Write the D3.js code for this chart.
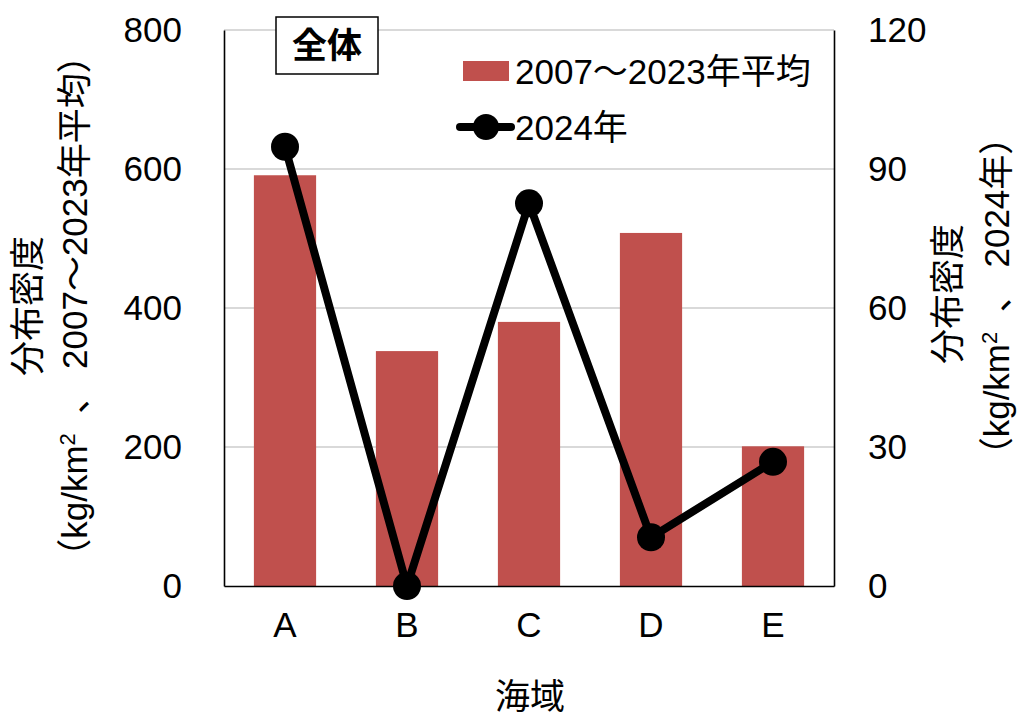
<!DOCTYPE html>
<html>
<head>
<meta charset="utf-8">
<script src="https://cdn.jsdelivr.net/npm/d3@7"></script>
<style>
  html, body { margin: 0; padding: 0; background: #fff; }
  svg { display: block; }
  text { font-family: "Liberation Sans", "Noto Sans CJK JP", sans-serif; fill: #000; white-space: pre; }
</style>
</head>
<body>
<svg id="chart" width="1019" height="722"></svg>
<script>
// Sea areas and densities
const categories = ["A", "B", "C", "D", "E"];
const avgValues = [591, 338, 380, 508, 201];      // 2007–2023 average (left axis)
const val2024 = [94.8, 0, 82.6, 10.5, 26.8];       // 2024 (right axis)
const leftTicks = [0, 200, 400, 600, 800];
const rightTicks = [0, 30, 60, 90, 120];
const seriesNames = ["2007～2023年平均", "2024年"];
const panelTitle = "全体";
const xTitle = "海域";

const W = 1019, H = 722;
const plot = { left: 224, right: 834, top: 30, bottom: 586 };
const barColor = "#C0504D";
const fs = 35;

const svg = d3.select("#chart");

const x = d3.scaleBand()
  .domain(categories)
  .range([plot.left, plot.right])
  .paddingInner(0.49)
  .paddingOuter(0.245);
const yL = d3.scaleLinear().domain([0, 800]).range([plot.bottom, plot.top]);
const yR = d3.scaleLinear().domain([0, 120]).range([plot.bottom, plot.top]);

// gridlines
svg.append("g").selectAll("line")
  .data(leftTicks.filter(d => d > 0))
  .join("line")
  .attr("x1", plot.left).attr("x2", plot.right)
  .attr("y1", d => yL(d)).attr("y2", d => yL(d))
  .attr("stroke", "#d9d9d9").attr("stroke-width", 2);

// bars
svg.append("g").selectAll("rect")
  .data(categories.map((c, i) => ({ c, v: avgValues[i] })))
  .join("rect")
  .attr("x", d => x(d.c))
  .attr("width", x.bandwidth())
  .attr("y", d => yL(d.v))
  .attr("height", d => yL(0) - yL(d.v))
  .attr("fill", barColor);

// axes
const axL = svg.append("g")
  .attr("transform", `translate(${plot.left},0)`)
  .call(d3.axisLeft(yL).tickValues(leftTicks).tickSize(0).tickPadding(42).tickSizeOuter(0));
const axR = svg.append("g")
  .attr("transform", `translate(${plot.right},0)`)
  .call(d3.axisRight(yR).tickValues(rightTicks).tickSize(0).tickPadding(34).tickSizeOuter(0));
const axB = svg.append("g")
  .attr("transform", `translate(0,${plot.bottom})`)
  .call(d3.axisBottom(x).tickSize(0).tickPadding(26).tickSizeOuter(0));

[axL, axR, axB].forEach(g => {
  g.select(".domain").attr("stroke", "#000").attr("stroke-width", 1.6);
  g.selectAll("text")
    .attr("font-size", fs)
    .attr("font-family", "Liberation Sans, sans-serif")
    .attr("fill", "#000");
});
axB.selectAll("text").attr("dy", "0.71em");

// 2024 line
const pts = categories.map((c, i) => [x(c) + x.bandwidth() / 2, yR(val2024[i])]);
svg.append("path")
  .attr("d", d3.line()(pts))
  .attr("fill", "none")
  .attr("stroke", "#000")
  .attr("stroke-width", 8)
  .attr("stroke-linejoin", "round");
svg.append("g").selectAll("circle")
  .data(pts)
  .join("circle")
  .attr("cx", d => d[0]).attr("cy", d => d[1])
  .attr("r", 14).attr("fill", "#000");

// panel title
svg.append("rect")
  .attr("x", 276).attr("y", 17).attr("width", 102).attr("height", 57)
  .attr("fill", "#fff").attr("stroke", "#000").attr("stroke-width", 1.5);
svg.append("text")
  .attr("x", 327).attr("y", 46).attr("dy", "0.35em")
  .attr("text-anchor", "middle")
  .attr("font-size", fs).attr("font-weight", "bold")
  .attr("font-family", "Noto Sans CJK JP, sans-serif")
  .text(panelTitle);

// legend
const lg = svg.append("g");
lg.append("rect").attr("x", 463).attr("y", 61).attr("width", 46).attr("height", 20).attr("fill", barColor);
lg.append("text").attr("x", 515).attr("y", 72).attr("dy", "0.35em").attr("font-size", fs).text(seriesNames[0]);
lg.append("line").attr("x1", 460).attr("x2", 511).attr("y1", 127).attr("y2", 127)
  .attr("stroke", "#000").attr("stroke-width", 8).attr("stroke-linecap", "round");
lg.append("circle").attr("cx", 486).attr("cy", 127).attr("r", 13).attr("fill", "#000");
lg.append("text").attr("x", 515).attr("y", 128).attr("dy", "0.35em").attr("font-size", fs).text(seriesNames[1]);

// axis titles
function unitTitle(g, cx, cy, after) {
  const t = g.append("text")
    .attr("transform", `translate(${cx},${cy}) rotate(-90)`)
    .attr("text-anchor", "middle").attr("dy", "0.35em")
    .attr("font-size", fs);
  t.append("tspan").text("（kg/km");
  t.append("tspan").attr("font-size", 22).attr("dy", -12).text("2");
  t.append("tspan").attr("dy", 12).text(after);
}
const titles = svg.append("g");
titles.append("text")
  .attr("transform", `translate(28,${(plot.top + plot.bottom) / 2 - 2}) rotate(-90)`)
  .attr("text-anchor", "middle").attr("dy", "0.35em").attr("font-size", fs)
  .text("分布密度");
unitTitle(titles, 75, (plot.top + plot.bottom) / 2 - 2, "  、 2007～2023年平均）");
titles.append("text")
  .attr("transform", `translate(948,${(plot.top + plot.bottom) / 2 - 14}) rotate(-90)`)
  .attr("text-anchor", "middle").attr("dy", "0.35em").attr("font-size", fs)
  .text("分布密度");
unitTitle(titles, 997, (plot.top + plot.bottom) / 2 - 12, "  、 2024年）");

svg.append("text")
  .attr("x", 530).attr("y", 697).attr("dy", "0.35em")
  .attr("text-anchor", "middle").attr("font-size", fs)
  .text(xTitle);
</script>
</body>
</html>
